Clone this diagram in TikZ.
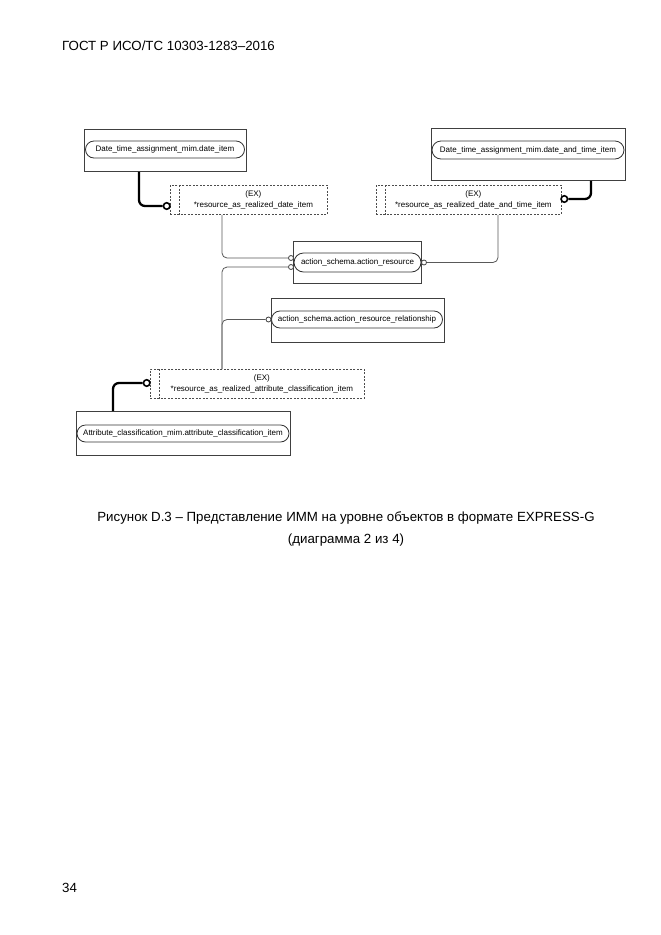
\documentclass[tikz,border=0pt]{standalone}
\usepackage{fontspec}
\setmainfont{Liberation Sans}
\usetikzlibrary{shapes.misc,calc}
\tikzset{
  ent/.style={draw=black!75, line width=0.8pt, inner sep=0pt, anchor=north west},
  pill/.style={rounded rectangle, draw=black!80, line width=0.8pt, fill=white, inner sep=0pt,
     font=\fontsize{8}{9.6}\selectfont},
  exbox/.style={draw=black!70, dashed, dash pattern=on 2pt off 1.5pt, line width=0.8pt, inner sep=0pt, anchor=north west},
  extext/.style={align=center, inner sep=0pt, font=\fontsize{8}{11}\selectfont},
  conn/.style={draw=black!65, line width=0.8pt, rounded corners=5pt},
  thickconn/.style={draw=black, line width=2.3pt, rounded corners=6pt},
  ocirc/.style={circle, draw=black!75, line width=0.8pt, fill=white, inner sep=0pt, minimum size=5pt},
  tcirc/.style={circle, draw=black, line width=1.6pt, fill=white, inner sep=0pt, minimum size=6.5pt},
  pagetext/.style={inner sep=0pt, font=\fontsize{13.3}{16}\selectfont}
}
\begin{document}
\begin{tikzpicture}[x=1pt,y=-1pt]
\fill[white] (0,0) rectangle (661,935);
\useasboundingbox (0,0) rectangle (661,935);

% page texts
\node[pagetext, anchor=west] (hdr) at (62,46) {ГОСТ Р ИСО/ТС 10303-1283–2016};
\node[pagetext] (cap1) at (346,518) {Рисунок D.3 – Представление ИММ на уровне объектов в формате EXPRESS-G};
\node[pagetext] (cap2) at (346,540) {(диаграмма 2 из 4)};
\node[pagetext, anchor=west] (pgno) at (62,888) {34};

% entity boxes
\node[ent, minimum width=162pt, minimum height=42pt] (box1) at (84,129) {};
\node[pill, minimum width=159pt, minimum height=17pt] (p1) at (165,149.5) {Date\_time\_assignment\_mim.date\_item};

\node[ent, minimum width=194pt, minimum height=52pt] (box2) at (431,128) {};
\node[pill, minimum width=192pt, minimum height=18pt] (p2) at (528,150) {Date\_time\_assignment\_mim.date\_and\_time\_item};

\node[ent, minimum width=128pt, minimum height=42pt] (box3) at (293,241) {};
\node[pill, minimum width=127pt, minimum height=19pt] (p3) at (357.5,262.5) {action\_schema.action\_resource};

\node[ent, minimum width=173pt, minimum height=44pt] (box5) at (271,298) {};
\node[pill, minimum width=171pt, minimum height=17pt] (p5) at (357,319.5) {action\_schema.action\_resource\_relationship};

\node[ent, minimum width=214pt, minimum height=44pt] (box4) at (76,411) {};
\node[pill, minimum width=212pt, minimum height=17pt] (p4) at (183,433.5) {Attribute\_classification\_mim.attribute\_classification\_item};

% EX select boxes
\node[exbox, minimum width=157pt, minimum height=29pt] (ex1) at (170,185) {};
\draw[exbox] ([xshift=9pt]ex1.north west) -- ([xshift=9pt]ex1.south west);
\node[extext] (ex1t) at ($(ex1.center)+(4.5,0)$) {(EX)\\*resource\_as\_realized\_date\_item};

\node[exbox, minimum width=185pt, minimum height=29pt] (ex2) at (376,185) {};
\draw[exbox] ([xshift=9pt]ex2.north west) -- ([xshift=9pt]ex2.south west);
\node[extext] (ex2t) at ($(ex2.center)+(4.5,0)$) {(EX)\\*resource\_as\_realized\_date\_and\_time\_item};

\node[exbox, minimum width=214pt, minimum height=29pt] (ex3) at (150,369) {};
\draw[exbox] ([xshift=9pt]ex3.north west) -- ([xshift=9pt]ex3.south west);
\node[extext] (ex3t) at ($(ex3.center)+(4.5,0)$) {(EX)\\*resource\_as\_realized\_attribute\_classification\_item};

% circles
\node[tcirc] (t1) at (166.7,206) {};
\node[tcirc] (t2) at (564.3,199) {};
\node[tcirc] (t3) at (146.7,383) {};
\node[ocirc] (c1) at (291,258) {};
\node[ocirc] (c2) at (291,267) {};
\node[ocirc] (c3) at (268.5,319.5) {};
\node[ocirc] (c4) at (424,262.5) {};

% connectors
\draw[thickconn] ([xshift=55pt]box1.south west) |- (t1.west);
\draw[thickconn] ([xshift=160pt]box2.south west) |- (t2.east);
\draw[thickconn] (t3.west) -| ([xshift=37pt]box4.north west);
\draw[conn] ([xshift=52pt]ex1.south west) |- (c1.west);
\draw[conn] (c2.west) -| ([xshift=72pt]ex3.north west);
\draw[conn] (c3.west) -| ([xshift=72pt]ex3.north west);
\draw[conn] ([xshift=122pt]ex2.south west) |- (c4.east);
\end{tikzpicture}
\end{document}
